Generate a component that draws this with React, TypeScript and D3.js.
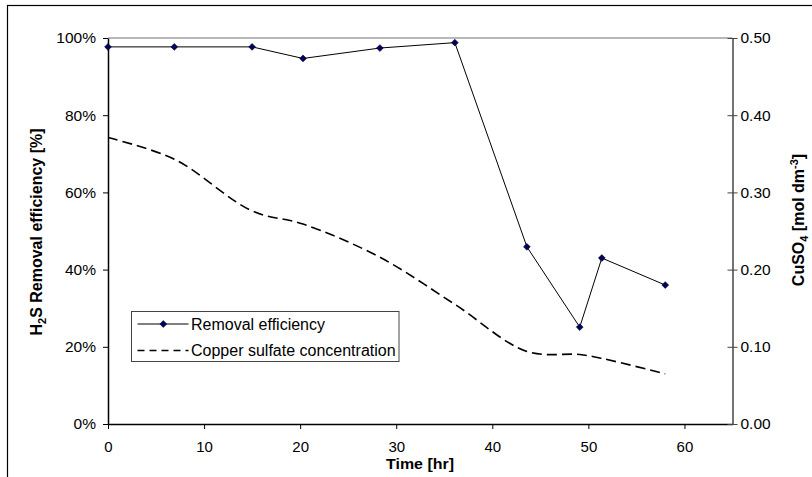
import React, { useEffect, useRef } from "react";
import * as d3 from "d3";

const timeHr = [0, 6.9, 15, 20.3, 28.3, 36.1, 43.6, 49.1, 51.4, 58];
const removalEff = [97.7, 97.7, 97.7, 94.7, 97.4, 98.8, 45.9, 25.1, 43.0, 36.0];
const cuso4Conc = [0.371, 0.343, 0.276, 0.259, 0.216, 0.155, 0.094, 0.09, 0.085, 0.065];
const xTicks = [0, 10, 20, 30, 40, 50, 60];
const leftTicks = [0, 20, 40, 60, 80, 100];
const rightTicks = [0, 0.1, 0.2, 0.3, 0.4, 0.5];
const legendLabels = ["Removal efficiency", "Copper sulfate concentration"];

const W = 812;
const H = 477;
const FONT = "Liberation Sans, Arial, sans-serif";

export default function App() {
  const ref = useRef<SVGSVGElement>(null);

  useEffect(() => {
    const svg = d3.select(ref.current);
    svg.selectAll("*").remove();

    const x = d3.scaleLinear().domain([0, 65]).range([108, 732.5]);
    const yL = d3.scaleLinear().domain([0, 100]).range([424, 38]);
    const yR = d3.scaleLinear().domain([0, 0.5]).range([424, 38]);

    // outer chart border
    svg.append("rect").attr("x", 7.5).attr("y", 5.5).attr("width", 820).attr("height", 500)
      .attr("fill", "white").attr("stroke", "#000").attr("stroke-width", 1.2);

    // top plot border
    svg.append("line").attr("x1", x(0)).attr("x2", x(65)).attr("y1", yL(100)).attr("y2", yL(100))
      .attr("stroke", "#a0a0a0").attr("stroke-width", 1.5);

    // left axis
    const gL = svg.append("g").attr("transform", `translate(${x(0)},0)`)
      .call(d3.axisLeft(yL).tickValues(leftTicks).tickSize(5).tickPadding(7).tickSizeOuter(0)
        .tickFormat((d: any) => `${d}%`));
    gL.select(".domain").attr("stroke", "#000").attr("stroke-width", 1.5);
    gL.selectAll(".tick line").attr("stroke", "#000").attr("stroke-width", 1);
    gL.selectAll("text").attr("font-family", FONT).attr("font-size", 15.5).attr("fill", "#000");

    // bottom axis
    const gB = svg.append("g").attr("transform", `translate(0,${yL(0)})`)
      .call(d3.axisBottom(x).tickValues(xTicks).tickSize(5).tickPadding(14).tickSizeOuter(0)
        .tickFormat(d3.format("d")));
    gB.select(".domain").attr("stroke", "#000").attr("stroke-width", 1.5);
    gB.selectAll(".tick line").attr("stroke", "#000").attr("stroke-width", 1);
    gB.selectAll("text").attr("font-family", FONT).attr("font-size", 15).attr("fill", "#000")
      .attr("dy", "0").attr("y", 28);

    // right axis
    const gR = svg.append("g").attr("transform", `translate(${x(65)},0)`)
      .call(d3.axisRight(yR).tickValues(rightTicks).tickSize(5).tickPadding(3).tickSizeOuter(0)
        .tickFormat(d3.format(".2f")));
    gR.select(".domain").attr("stroke", "#444").attr("stroke-width", 1.5);
    gR.selectAll(".tick line").attr("x1", -5).attr("x2", 5).attr("stroke", "#444").attr("stroke-width", 1);
    gR.selectAll("text").attr("font-family", FONT).attr("font-size", 15.5).attr("fill", "#000");

    // copper sulfate smoothed dashed line
    const cuLine = d3.line<number>()
      .x((_, i) => x(timeHr[i]))
      .y((d) => yR(d))
      .curve(d3.curveCatmullRom.alpha(0.5));
    svg.append("path").attr("d", cuLine(cuso4Conc) as string)
      .attr("fill", "none").attr("stroke", "#000").attr("stroke-width", 1.6)
      .attr("stroke-dasharray", "10,5");

    // removal efficiency line
    const effLine = d3.line<number>().x((_, i) => x(timeHr[i])).y((d) => yL(d));
    svg.append("path").attr("d", effLine(removalEff) as string)
      .attr("fill", "none").attr("stroke", "#000").attr("stroke-width", 1);

    const diamond = (cx: number, cy: number, r = 3.4) =>
      `M${cx},${cy - r}L${cx + r},${cy}L${cx},${cy + r}L${cx - r},${cy}Z`;
    svg.append("g").selectAll("path").data(removalEff).join("path")
      .attr("d", (d, i) => diamond(x(timeHr[i]), yL(d)))
      .attr("fill", "#000066").attr("stroke", "#000").attr("stroke-width", 0.6);

    // legend
    const lg = svg.append("g");
    lg.append("rect").attr("x", 131.5).attr("y", 311.5).attr("width", 267.5).attr("height", 50)
      .attr("fill", "white").attr("stroke", "#444").attr("stroke-width", 1);
    const rowY = [324, 350.5];
    lg.append("line").attr("x1", 137.5).attr("x2", 188.5).attr("y1", rowY[0]).attr("y2", rowY[0])
      .attr("stroke", "#000").attr("stroke-width", 1);
    lg.append("path").attr("d", diamond(163.3, rowY[0]))
      .attr("fill", "#000066").attr("stroke", "#000").attr("stroke-width", 0.6);
    lg.append("line").attr("x1", 137.5).attr("x2", 188.5).attr("y1", rowY[1]).attr("y2", rowY[1])
      .attr("stroke", "#000").attr("stroke-width", 1.6).attr("stroke-dasharray", "7,5");
    legendLabels.forEach((t, i) => {
      lg.append("text").attr("x", 191).attr("y", rowY[i]).attr("dy", "0.35em")
        .attr("font-family", FONT).attr("font-size", 16).attr("fill", "#000").text(t);
    });

    // x title
    svg.append("text").attr("transform", "translate(420,469) scale(1.1,1)")
      .attr("text-anchor", "middle")
      .attr("font-family", FONT).attr("font-size", 14.5).attr("font-weight", "bold").text("Time [hr]");

    // left title
    const lt = svg.append("text").attr("transform", `translate(42,232) rotate(-90)`)
      .attr("text-anchor", "middle").attr("font-family", FONT).attr("font-size", 16)
      .attr("font-weight", "bold");
    lt.append("tspan").text("H");
    lt.append("tspan").attr("font-size", 11).attr("dy", 4).text("2");
    lt.append("tspan").attr("dy", -4).text("S Removal efficiency [%]");

    // right title
    const rt = svg.append("text").attr("transform", `translate(804,220) rotate(-90)`)
      .attr("text-anchor", "middle").attr("font-family", FONT).attr("font-size", 16)
      .attr("font-weight", "bold");
    rt.append("tspan").text("CuSO");
    rt.append("tspan").attr("font-size", 11).attr("dy", 4).text("4");
    rt.append("tspan").attr("dy", -4).text(" [mol dm");
    rt.append("tspan").attr("font-size", 11).attr("dy", -6).text("-3");
    rt.append("tspan").attr("dy", 6).text("]");
  }, []);

  return (
    <svg ref={ref} width={W} height={H}
      style={{ position: "absolute", left: 0, top: 0, background: "white" }} />
  );
}
